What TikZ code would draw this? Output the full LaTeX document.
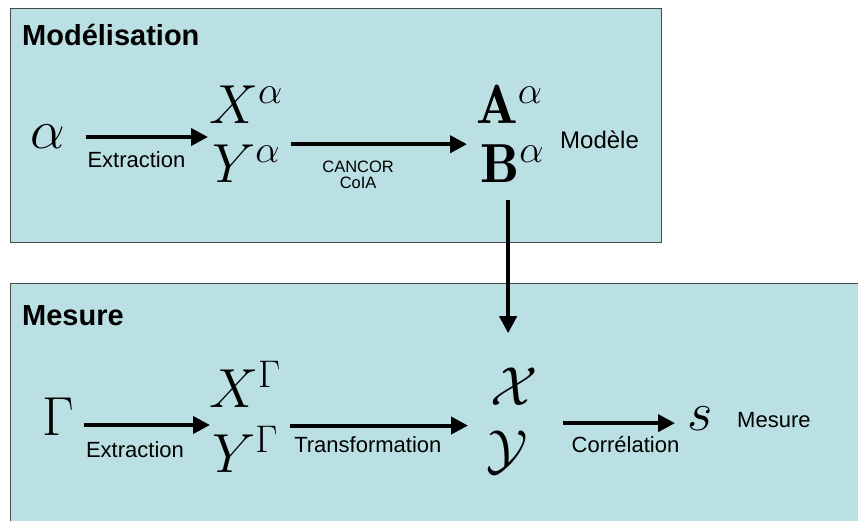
\RequirePackage{fix-cm}
\documentclass[tikz,border=0pt]{standalone}
\usepackage{fontspec}
\setsansfont{Liberation Sans}
\usetikzlibrary{arrows.meta}
\definecolor{Panel}{HTML}{BBE0E3}
\definecolor{Rim}{HTML}{4A4A4A}
\tikzset{
  panel/.style={fill=Panel,draw=Rim,line width=1pt},
  mth/.style={inner sep=0pt,font=\fontsize{55}{60}\selectfont},
  lab/.style={inner sep=0pt,font=\sffamily\fontsize{22}{22}\selectfont},
  smalllab/.style={lab,font=\sffamily\fontsize{16.5}{16}\selectfont},
  biglab/.style={lab,font=\sffamily\fontsize{24}{24}\selectfont},
  title/.style={inner sep=0pt,font=\sffamily\bfseries\fontsize{29}{29}\selectfont},
  flow/.style={-{Triangle[length=17pt,width=17pt]},line width=4pt}
}

\begin{document}
\begin{tikzpicture}[x=1pt,y=-1pt]
  \useasboundingbox (0,0) rectangle (858,520);
  \clip (0,0) rectangle (858,520);
  % panels
  \draw[panel] (10,8) rectangle (661,242);
  \draw[panel] (10,283) rectangle (870,530);
  \node[title,anchor=base west] (tmod) at (22,45) {Modélisation};
  \node[title,anchor=base west] (tmes) at (22,325) {Mesure};

  % modelisation row
  \node[mth] (alpha) at (48,137) {$\alpha$};
  \node[mth,anchor=base west] (Xa) at (209,123) {$X^{\alpha}$};
  \node[mth,anchor=base west] (Ya) at (212,182) {$Y^{\alpha}$};
  \node[mth,anchor=base west] (Aa) at (476,123) {$\mathbf{A}^{\alpha}$};
  \node[mth,anchor=base west] (Ba) at (480,182) {$\mathbf{B}^{\alpha}$};
  \node[biglab,anchor=base west] (model) at (560,148) {Modèle};

  \draw[flow] ([xshift=20pt]alpha.east) -- ([xshift=-1pt]alpha.east -| Xa.west)
    node[lab,pos=0,anchor=base west,yshift=-30pt] {Extraction};
  \draw[flow] ([xshift=11pt]Ya.north east) -- ([xshift=-13pt]Ya.north east -| Ba.west)
    node[smalllab,pos=0.38,anchor=north,yshift=-15pt,align=center] {CANCOR\\CoIA};

  % mesure row
  \node[mth,anchor=base] (Gam) at (58,435) {$\Gamma$};
  \node[mth,anchor=base west] (XG) at (209,407) {$X^{\Gamma}$};
  \node[mth,anchor=base west] (YG) at (212,472) {$Y^{\Gamma}$};
  \node[mth,anchor=base west] (Xc) at (490,405) {$\mathcal{X}$};
  \node[mth,anchor=base west] (Yc) at (486,468) {$\mathcal{Y}$};
  \node[mth,anchor=base west] (s) at (687,430) {$s$};
  \node[lab,anchor=base west] (mes) at (737,427) {Mesure};

  \draw[flow] ([xshift=-4pt,yshift=-18pt]Ba.south) -- ([xshift=-4pt,yshift=34pt]Ba.south |- Xc.north);
  \draw[flow] ([xshift=10pt,yshift=10pt]Gam.base east) -- ([xshift=1pt,yshift=10pt]Gam.base east -| XG.west)
    node[lab,pos=0,anchor=base west,yshift=-32pt] {Extraction};
  \draw[flow] ([xshift=12pt]YG.north east) -- ([xshift=-18pt]YG.north east -| Yc.west)
    node[lab,pos=0,anchor=base west,xshift=2pt,yshift=-27pt] {Transformation};
  \draw[flow] ([xshift=35pt,yshift=-5pt]Yc.east |- s.west) -- ([xshift=-12pt,yshift=-5pt]s.west)
    node[lab,pos=0,anchor=base west,xshift=7pt,yshift=-29pt] {Corrélation};
\end{tikzpicture}
\end{document}
